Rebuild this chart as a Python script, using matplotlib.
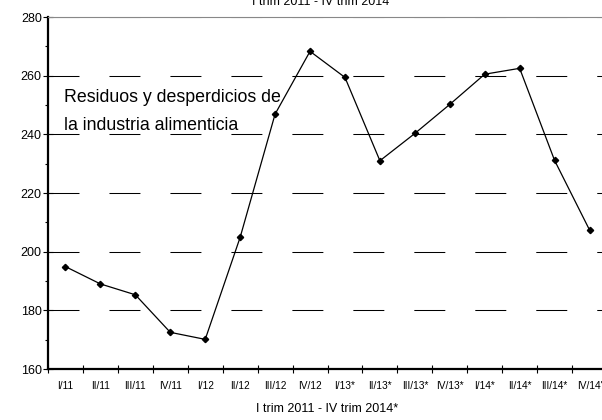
import matplotlib
matplotlib.use("Agg")
import matplotlib.pyplot as plt
from matplotlib.ticker import MultipleLocator

plt.rcParams['font.family'] = ['Liberation Sans', 'DejaVu Sans']
plt.rcParams['lines.scale_dashes'] = False

categories = ["I/11", "II/11", "III/11", "IV/11", "I/12", "II/12", "III/12", "IV/12",
              "I/13*", "II/13*", "III/13*", "IV/13*", "I/14*", "II/14*", "III/14*", "IV/14'"]
values = [194.9, 189.0, 185.3, 172.5, 170.1, 204.9, 246.9, 268.3,
          259.4, 231.0, 240.3, 250.2, 260.5, 262.5, 231.1, 207.4]
yticks = [160, 180, 200, 220, 240, 260, 280]
top_title = "I trim 2011 - IV trim 2014"
bottom_title = "I trim 2011 - IV trim 2014*"
annotation_lines = ["Residuos y desperdicios de", "la industria alimenticia"]

W, H = 602, 420
fig = plt.figure(figsize=(W / 100, H / 100), dpi=100)
ax = fig.add_axes([48 / W, (H - 369) / H, 559 / W, 352 / H])

x = list(range(len(categories)))

# dashed horizontal grid
for yv in yticks[1:]:
    ax.axhline(yv, color='black', lw=0.75, linestyle=(0, (22.3, 21.6)), zorder=1)

ax.plot(x, values, color='black', lw=0.9, marker='D', markersize=3.2,
        markerfacecolor='black', markeredgecolor='black', zorder=3)

ax.set_xlim(-0.5, len(categories) - 0.5)
ax.set_ylim(160, 280)

# x ticks at boundaries, labels at centers
ax.set_xticks([i - 0.5 for i in range(len(categories) + 1)])
ax.set_xticklabels([])
ax.set_xticks(x, minor=True)
ax.set_xticklabels(categories, minor=True, fontsize=7.3)
ax.tick_params(axis='x', which='major', direction='inout', length=6, width=0.8, color='black')
ax.tick_params(axis='x', which='minor', length=0, pad=8.5)

ax.set_yticks(yticks)
ax.set_yticklabels([str(v) for v in yticks], fontsize=9)
ax.yaxis.set_minor_locator(MultipleLocator(10))
ax.tick_params(axis='y', which='major', direction='inout', length=7, width=0.8, pad=1)
ax.tick_params(axis='y', which='minor', direction='out', length=2, width=0.8)

ax.spines['left'].set_linewidth(1.6)
ax.spines['bottom'].set_linewidth(1.6)
ax.spines['right'].set_visible(False)
ax.spines['top'].set_color('#888888')
ax.spines['top'].set_linewidth(0.8)

# annotation lines (baselines in figure pixels from top)
for line, yb in zip(annotation_lines, [101.7, 130.0]):
    fig.text(64 / W, 1 - yb / H, line, fontsize=12.8,
             ha='left', va='baseline', zorder=4)

fig.text(321 / W, 1 - 5 / H, top_title, ha='center', va='baseline', fontsize=9)
fig.text(327 / W, 1 - 409 / H, bottom_title, ha='center', va='center', fontsize=9)

fig.savefig("out.png", dpi=100)
